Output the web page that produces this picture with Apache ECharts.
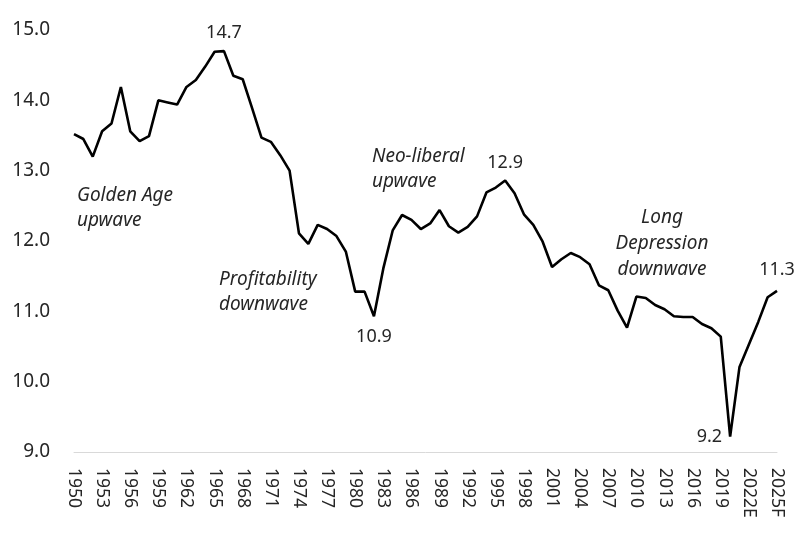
<!DOCTYPE html>
<html>
<head>
<meta charset="utf-8">
<script src="https://cdn.jsdelivr.net/npm/echarts@6/dist/echarts.min.js"></script>
<style>
html,body{margin:0;padding:0;background:#fff;}
#chart{width:799px;height:538px;}
</style>
</head>
<body>
<div id="chart"></div>
<script>
const categories = ['1950','1951','1952','1953','1954','1955','1956','1957','1958','1959',
'1960','1961','1962','1963','1964','1965','1966','1967','1968','1969',
'1970','1971','1972','1973','1974','1975','1976','1977','1978','1979',
'1980','1981','1982','1983','1984','1985','1986','1987','1988','1989',
'1990','1991','1992','1993','1994','1995','1996','1997','1998','1999',
'2000','2001','2002','2003','2004','2005','2006','2007','2008','2009',
'2010','2011','2012','2013','2014','2015','2016','2017','2018','2019',
'2020','2021','2022E','2023E','2024E','2025F'];

const rateOfProfit = [13.52,13.45,13.20,13.56,13.67,14.19,13.56,13.42,13.49,14.00,
13.97,13.94,14.19,14.29,14.48,14.69,14.70,14.35,14.30,13.89,
13.47,13.41,13.22,13.00,12.11,11.96,12.23,12.17,12.07,11.85,
11.28,11.28,10.93,11.61,12.15,12.37,12.30,12.17,12.25,12.44,
12.21,12.12,12.20,12.35,12.69,12.76,12.86,12.68,12.38,12.23,
11.99,11.63,11.74,11.83,11.77,11.67,11.37,11.30,11.01,10.77,
11.21,11.19,11.09,11.03,10.93,10.92,10.92,10.82,10.76,10.64,
9.22,10.21,10.53,10.85,11.20,11.29];

const yTicks = [9, 10, 11, 12, 13, 14, 15];

// points whose value is written next to them, with where the text sits
const labelledYears = ['1966','1982','1996','2020','2025F'];
const labelledSides = ['top','bottom','top','left','top'];

const FONT = '"Noto Sans", "Open Sans", sans-serif';
const TXT = '#262626';

const seriesData = rateOfProfit.map((v, i) => {
  const k = labelledYears.indexOf(categories[i]);
  if (k < 0) return v;
  const side = labelledSides[k];
  return {
    value: v,
    label: {
      show: true,
      position: side,
      distance: side === 'bottom' ? 12 : (side === 'left' ? 8 : (categories[i] === '2025F' ? 12 : 9)),
      offset: side === 'left' ? [0, 2] : (categories[i] === '2025F' ? [-4, 0] : [0, 0]),
      formatter: p => p.value.toFixed(1),
      fontFamily: FONT,
      fontSize: 18,
      color: TXT
    }
  };
});

const chart = echarts.init(document.getElementById('chart'), null, {renderer: 'canvas'});
chart.setOption({
  animation: false,
  backgroundColor: '#fff',
  grid: {left: 74, right: 22, top: 30, bottom: 86, containLabel: false},
  xAxis: {
    type: 'category',
    data: categories,
    boundaryGap: false,
    axisLine: {show: true, lineStyle: {color: '#d9d9d9', width: 1}},
    axisTick: {show: false},
    splitLine: {show: false},
    axisLabel: {
      interval: 2,
      rotate: -90,
      margin: 16,
      fontFamily: FONT,
      fontSize: 17.5,
      color: TXT
    }
  },
  yAxis: {
    type: 'value',
    min: yTicks[0],
    max: yTicks[yTicks.length - 1],
    interval: 1,
    axisLine: {show: false},
    axisTick: {show: false},
    splitLine: {show: false},
    axisLabel: {
      margin: 24,
      fontFamily: FONT,
      fontSize: 19,
      color: TXT,
      formatter: v => v.toFixed(1)
    }
  },
  series: [{
    type: 'line',
    data: seriesData,
    showSymbol: true,
    symbol: 'circle',
    symbolSize: 0,
    itemStyle: {color: '#000'},
    lineStyle: {color: '#000', width: 2.6},
    emphasis: {disabled: true},
    labelLayout: {hideOverlap: false},
    label: {show: false}
  }],
  graphic: [
    {type: 'text', x: 77, y: 183, style: {text: 'Golden Age\nupwave', font: 'italic 19px ' + FONT, fill: TXT, lineHeight: 25, align: 'left', verticalAlign: 'top'}},
    {type: 'text', x: 219, y: 267, style: {text: 'Profitability\ndownwave', font: 'italic 19px ' + FONT, fill: TXT, lineHeight: 25, align: 'left', verticalAlign: 'top'}},
    {type: 'text', x: 372, y: 144, style: {text: 'Neo-liberal\nupwave', font: 'italic 19px ' + FONT, fill: TXT, lineHeight: 25, align: 'left', verticalAlign: 'top'}},
    {type: 'text', x: 662, y: 205, style: {text: 'Long\nDepression\ndownwave', font: 'italic 19px ' + FONT, fill: TXT, lineHeight: 26, align: 'center', verticalAlign: 'top'}}
  ]
});
</script>
</body>
</html>
